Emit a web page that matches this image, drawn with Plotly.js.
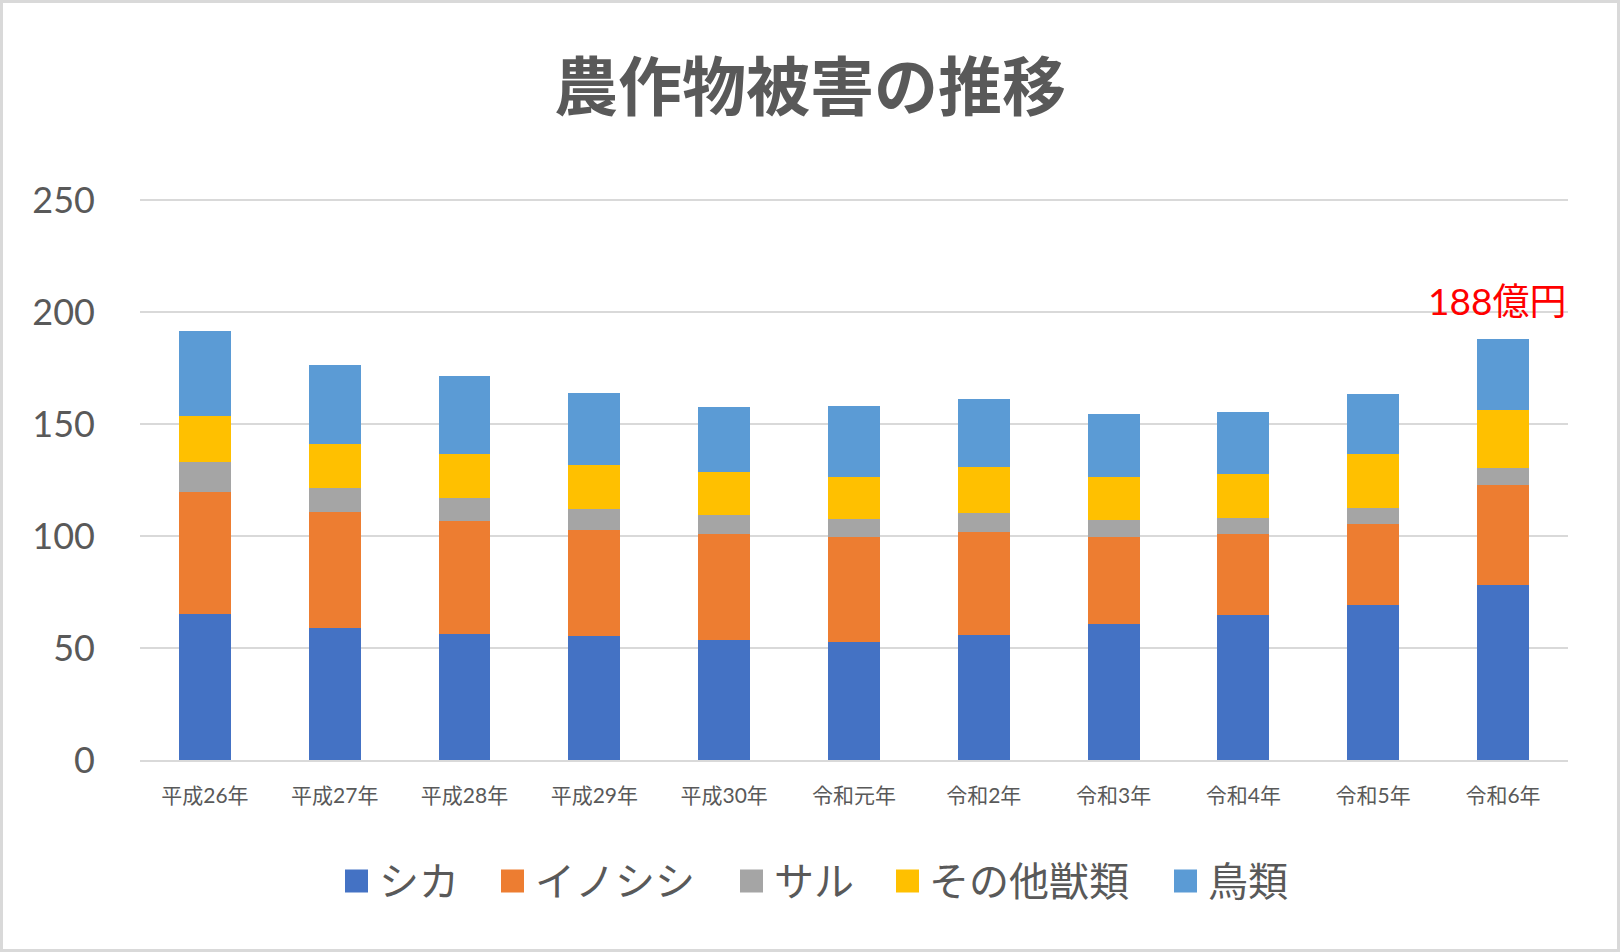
<!DOCTYPE html>
<html lang="ja">
<head>
<meta charset="utf-8">
<script src="https://cdn.plot.ly/plotly-3.0.1.min.js"></script>
<style>
  html, body { margin: 0; padding: 0; background: #ffffff; }
  #frame {
    width: 1620px; height: 952px; box-sizing: border-box;
    border: 3px solid #d9d9d9; background: #ffffff;
  }
</style>
</head>
<body>
<div id="frame"><div id="chart"></div></div>
<script>
// 年度
const categories = ['平成26年', '平成27年', '平成28年', '平成29年', '平成30年',
                    '令和元年', '令和2年', '令和3年', '令和4年', '令和5年', '令和6年'];

// 被害額（億円）
const shika     = [65.0, 59.1, 56.1, 55.2, 53.7, 52.8, 55.9, 60.8, 64.9, 69.4, 78.2];
const inoshishi = [54.7, 51.7, 50.8, 47.6, 47.2, 46.6, 45.8, 38.9, 36.0, 35.9, 44.5];
const saru      = [13.3, 10.5, 10.0,  9.5,  8.5,  8.1,  8.6,  7.5,  7.1,  7.2,  7.5];
const sonota    = [20.6, 19.8, 19.8, 19.6, 19.1, 18.9, 20.4, 19.2, 19.6, 24.2, 26.1];
const chourui   = [37.9, 35.1, 34.6, 31.9, 29.0, 31.6, 30.3, 28.3, 27.6, 26.6, 31.7];

const seriesNames = ['シカ', 'イノシシ', 'サル', 'その他獣類', '鳥類'];
const seriesData  = [shika, inoshishi, saru, sonota, chourui];
const seriesColors = ['#4472C4', '#ED7D31', '#A5A5A5', '#FFC000', '#5B9BD5'];

const textColor = '#595959';
const latin = 'Lato, "Noto Sans CJK JP", sans-serif';
const cjk = '"Noto Sans CJK JP", Lato, sans-serif';

const traces = seriesNames.map((name, i) => ({
  type: 'bar',
  name: name,
  x: categories,
  y: seriesData[i],
  marker: { color: seriesColors[i], line: { width: 0 } },
  showlegend: false,
  hoverinfo: 'x+y+name'
}));

// 最新年度の合計
const lastIdx = categories.length - 1;
const lastTotal = seriesData.reduce((s, arr) => s + arr[lastIdx], 0);

// plot box in page pixels, used for the hand-drawn legend
const box = { left: 140, top: 199, width: 1428, height: 561 };
const px2x = p => (p - box.left) / box.width;
const py2y = p => (box.top + box.height - p) / box.height;

const legendMarkerLeft = [345, 501, 740, 896, 1174];
const legendTextLeft   = [377, 533, 772, 927, 1206];
const legendY = 879;

const shapes = [];
const annotations = [];

seriesNames.forEach((name, i) => {
  shapes.push({
    type: 'rect', xref: 'paper', yref: 'paper',
    xsizemode: 'pixel', ysizemode: 'pixel',
    xanchor: px2x(legendMarkerLeft[i]), yanchor: py2y(legendY + 2),
    x0: 0, x1: 23, y0: -11.5, y1: 11.5,
    fillcolor: seriesColors[i], line: { width: 0 }
  });
  annotations.push({
    xref: 'paper', yref: 'paper',
    x: px2x(legendTextLeft[i]), y: py2y(legendY),
    xanchor: 'left', yanchor: 'middle',
    text: name, showarrow: false,
    font: { family: cjk, size: 40, color: textColor }
  });
});

annotations.push({
  xref: 'x', yref: 'y',
  x: categories[lastIdx], y: lastTotal,
  xanchor: 'center', yanchor: 'bottom', xshift: -6, yshift: 14,
  text: Math.round(lastTotal) + '億円', showarrow: false,
  font: { family: latin, size: 37, color: '#FF0000' }
});

const layout = {
  width: 1614, height: 946,
  margin: { l: 137, r: 49, t: 196, b: 189 },
  paper_bgcolor: '#ffffff', plot_bgcolor: '#ffffff',
  barmode: 'stack', bargap: 0.6,
  title: {
    text: '<b>農作物被害の推移</b>',
    font: { family: cjk, size: 64, color: textColor },
    x: 0.5, xref: 'container', xanchor: 'center',
    y: 1 - 85 / 946, yref: 'container', yanchor: 'middle'
  },
  xaxis: {
    type: 'category',
    tickfont: { family: latin, size: 21, color: textColor },
    showgrid: false, zeroline: false,
    showline: true, linecolor: '#d9d9d9', linewidth: 2,
    ticks: '', ticklabelstandoff: 16, fixedrange: true
  },
  yaxis: {
    range: [0, 250.5], tickvals: [0, 50, 100, 150, 200, 250],
    tickfont: { family: latin, size: 36, color: textColor },
    showgrid: true, gridcolor: '#d9d9d9', gridwidth: 2,
    zeroline: false, showline: false,
    ticks: '', ticklabelstandoff: 44, fixedrange: true
  },
  shapes: shapes,
  annotations: annotations,
  showlegend: false
};

Plotly.newPlot('chart', traces, layout, { displayModeBar: false, staticPlot: true });
</script>
</body>
</html>
